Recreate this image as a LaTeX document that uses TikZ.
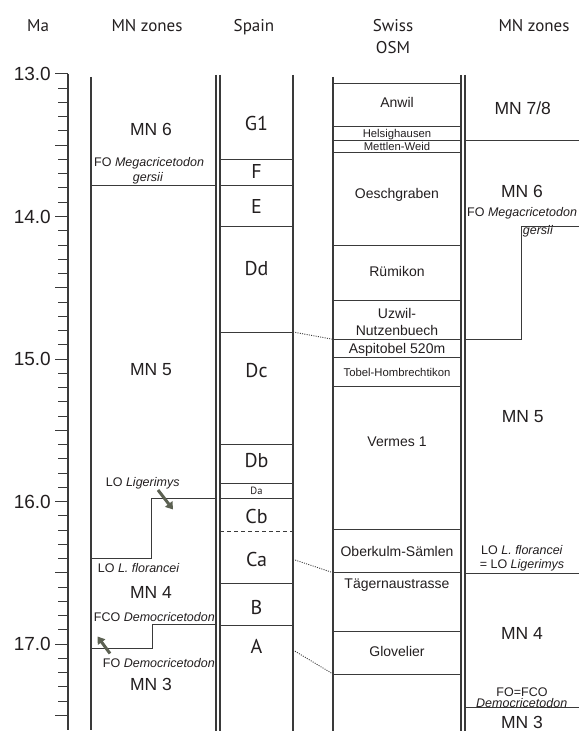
\documentclass[tikz,border=0pt]{standalone}
\usepackage{fontspec}
\setmainfont{Liberation Sans}
\newfontfamily\hdfont{PT Sans}
\usetikzlibrary{arrows.meta}
\definecolor{ink}{HTML}{231F20}
\definecolor{rulec}{HTML}{3A3A3A}
\definecolor{arrc}{HTML}{5C6152}
\begin{document}
\begin{tikzpicture}[x=1pt,y=-1pt,
  hdr/.style={font=\hdfont\fontsize{17}{20}\selectfont, text=ink, inner sep=0pt, text height=12pt, text depth=0pt},
  tickline/.style={draw=rulec, line width=1pt},
  num/.style={font=\fontsize{19}{22}\selectfont, text=ink, anchor=east, inner sep=0pt, text height=13.6pt, text depth=0pt},
  col/.style={draw=rulec, line width=1.2pt},
  hl/.style={draw=rulec, line width=0.9pt},
  zone/.style={font=\fontsize{17.5}{20}\selectfont, text=ink, inner sep=0pt, text height=12.5pt, text depth=0pt},
  note/.style={font=\fontsize{12.5}{14}\selectfont, text=ink, inner sep=0pt, text height=9pt, text depth=0pt},
  sp/.style={font=\hdfont\fontsize{20}{24}\selectfont, text=ink, inner sep=0pt, text height=14pt, text depth=0pt},
  sw/.style={font=\fontsize{14}{16}\selectfont, text=ink, inner sep=0pt, text height=10pt, text depth=0pt},
  swsmall/.style={font=\fontsize{11.3}{13}\selectfont, text=ink, inner sep=0pt, text height=8.1pt, text depth=0pt},
  link/.style={draw=rulec, line width=0.9pt, dash pattern=on 1pt off 1.3pt},
  bioarrow/.style={draw=arrc, line width=3pt, -{Triangle[length=7pt,width=9pt]}},
]
\useasboundingbox (0,0) rectangle (579,735);
\fill[white] (0,0) rectangle (579,735);

% headers
\node[hdr] (hMa) at (38,25.7) {Ma};
\node[hdr] (hMNl) at (147,25.7) {MN zones};
\node[hdr] (hSp) at (254,25.7) {Spain};
\node[hdr] (hSw1) at (393,25.7) {Swiss};
\node[hdr] (hSw2) at (393,47.3) {OSM};
\node[hdr] (hMNr) at (534,25.7) {MN zones};

% time axis
\draw[col] (68,74) -- (68,730);
\foreach \i in {0,...,45}{
  \pgfmathtruncatemacro\m{mod(\i,5)}
  \pgfmathsetmacro\yy{74+\i*14.25}
  \ifnum\m=0 \draw[tickline] (55,\yy) -- (68,\yy); \else \draw[tickline] (58,\yy) -- (68,\yy); \fi
}
\node[num] (n13) at (51,74) {13.0};
\node[num] (n14) at (51,216.5) {14.0};
\node[num] (n15) at (51,359) {15.0};
\node[num] (n16) at (51,501.5) {16.0};
\node[num] (n17) at (51,644) {17.0};

% column borders
\draw[col] (91,77) -- (91,730);
\draw[col] (216,75) -- (216,731);
\draw[col] (220,75) -- (220,731);
\draw[col] (293,75) -- (293,731);
\draw[col] (333,77) -- (333,731);
\draw[col] (461,75) -- (461,731);
\draw[col] (465,75) -- (465,731);

% left MN zones
\draw[hl] (91,185.3) -- (216,185.3);
\draw[hl] (91,558.3) -- (151,558.3) -- (151,498.3) -- (216,498.3);
\draw[hl] (91,648.3) -- (152,648.3) -- (152,624.3) -- (216,624.3);
\node[zone] (lMN6) at (151,129.3) {MN 6};
\node[note, anchor=west] (lFOM) at (94,161.7) {FO \textit{Megacricetodon}};
\node[note] (lgers) at (148,176.7) {\textit{gersii}};
\node[zone] (lMN5) at (151,369) {MN 5};
\node[note] (lLOL) at (142.7,482.3) {LO \textit{Ligerimys}};
\node[note, anchor=west] (lLOf) at (97.7,568.3) {LO \textit{L. florancei}};
\node[zone] (lMN4) at (151,592.3) {MN 4};
\node[note, anchor=east] (lFCO) at (215,616.7) {FCO \textit{Democricetodon}};
\node[note, anchor=east] (lFOD) at (215,663.3) {FO \textit{Democricetodon}};
\node[zone] (lMN3) at (151,684) {MN 3};
\coordinate (a1s) at (158,490);
\coordinate (a1e) at (173,509.5);
\draw[bioarrow] (a1s) -- (a1e);
\coordinate (a2s) at (110,653.5);
\coordinate (a2e) at (97.5,636.5);
\draw[bioarrow] (a2s) -- (a2e);

% Spain
\foreach \yy in {159.3,185,226.7,332,444.7,483.3,498.3,583.3,625}
  \draw[hl] (220,\yy) -- (293,\yy);
\draw[hl, dash pattern=on 4pt off 3pt] (220,531) -- (293,531);
\node[sp] (sG1) at (256.5,124) {G1};
\node[sp] (sF) at (256.5,172) {F};
\node[sp] (sE) at (256.5,207) {E};
\node[sp] (sDd) at (256.5,268) {Dd};
\node[sp] (sDc) at (256.5,370) {Dc};
\node[sp] (sDb) at (256.5,460.7) {Db};
\node[font=\hdfont\fontsize{10.5}{12}\selectfont, text=ink, inner sep=0pt, text height=7.3pt, text depth=0pt] (sDa) at (256.5,490.7) {Da};
\node[sp] (sCb) at (256.5,516.7) {Cb};
\node[sp] (sCa) at (256.5,559) {Ca};
\node[sp] (sB) at (256.5,607) {B};
\node[sp] (sA) at (256.5,646.7) {A};

% Swiss OSM
\foreach \yy in {83.3,126.7,140.7,152.7,245,300,339.3,357,386.7,529.3,572.7,631.7,674}
  \draw[hl] (333,\yy) -- (461,\yy);
\node[sw] (wAnw) at (397,102.7) {Anwil};
\node[swsmall] (wHel) at (397,133.7) {Helsighausen};
\node[swsmall] (wMet) at (397,146.7) {Mettlen-Weid};
\node[sw] (wOes) at (397,194) {Oeschgraben};
\node[sw] (wRum) at (397,271) {Rümikon};
\node[sw] (wUz1) at (397,313.3) {Uzwil-};
\node[sw] (wUz2) at (397,330) {Nutzenbuech};
\node[sw] (wAsp) at (397,348.5) {Aspitobel 520m};
\node[swsmall] (wTob) at (397,372.5) {Tobel-Hombrechtikon};
\node[sw] (wVer) at (397,441) {Vermes 1};
\node[sw] (wObe) at (397,551.7) {Oberkulm-Sämlen};
\node[sw] (wTag) at (397,583.3) {Tägernaustrasse};
\node[sw] (wGlo) at (397,651.7) {Glovelier};

% correlation links
\coordinate (spDc) at (293,332);
\coordinate (swAsp) at (333,339.3);
\coordinate (spCa) at (293,559.3);
\coordinate (swTag) at (333,572.7);
\coordinate (spA) at (293,650);
\coordinate (swGlo) at (333,674);
\draw[link] (spDc) -- (swAsp);
\draw[link] (spCa) -- (swTag);
\draw[link] (spA) -- (swGlo);

% right MN zones
\draw[hl] (465,140.7) -- (579,140.7);
\draw[hl] (465,339.3) -- (521,339.3) -- (521,226.7) -- (579,226.7);
\draw[hl] (465,573.3) -- (579,573.3);
\draw[hl] (465,707.3) -- (579,707.3);
\node[zone] (rMN78) at (522.7,108.3) {MN 7/8};
\node[zone] (rMN6) at (522,191.7) {MN 6};
\node[note, anchor=west] (rFOM) at (467,211.7) {FO \textit{Megacricetodon}};
\node[note] (rgers) at (538,230) {\textit{gersii}};
\node[zone] (rMN5) at (522.7,416.7) {MN 5};
\node[note] (rLOf) at (522,550) {LO \textit{L. florancei}};
\node[note] (rLOL) at (522,564.3) {= LO \textit{Ligerimys}};
\node[zone] (rMN4) at (522,633.3) {MN 4};
\node[note] (rFO) at (522,691.5) {FO=FCO};
\node[note] (rDem) at (521.7,702.5) {\textit{Democricetodon}};
\node[zone] (rMN3) at (522,722) {MN 3};
\end{tikzpicture}
\end{document}
